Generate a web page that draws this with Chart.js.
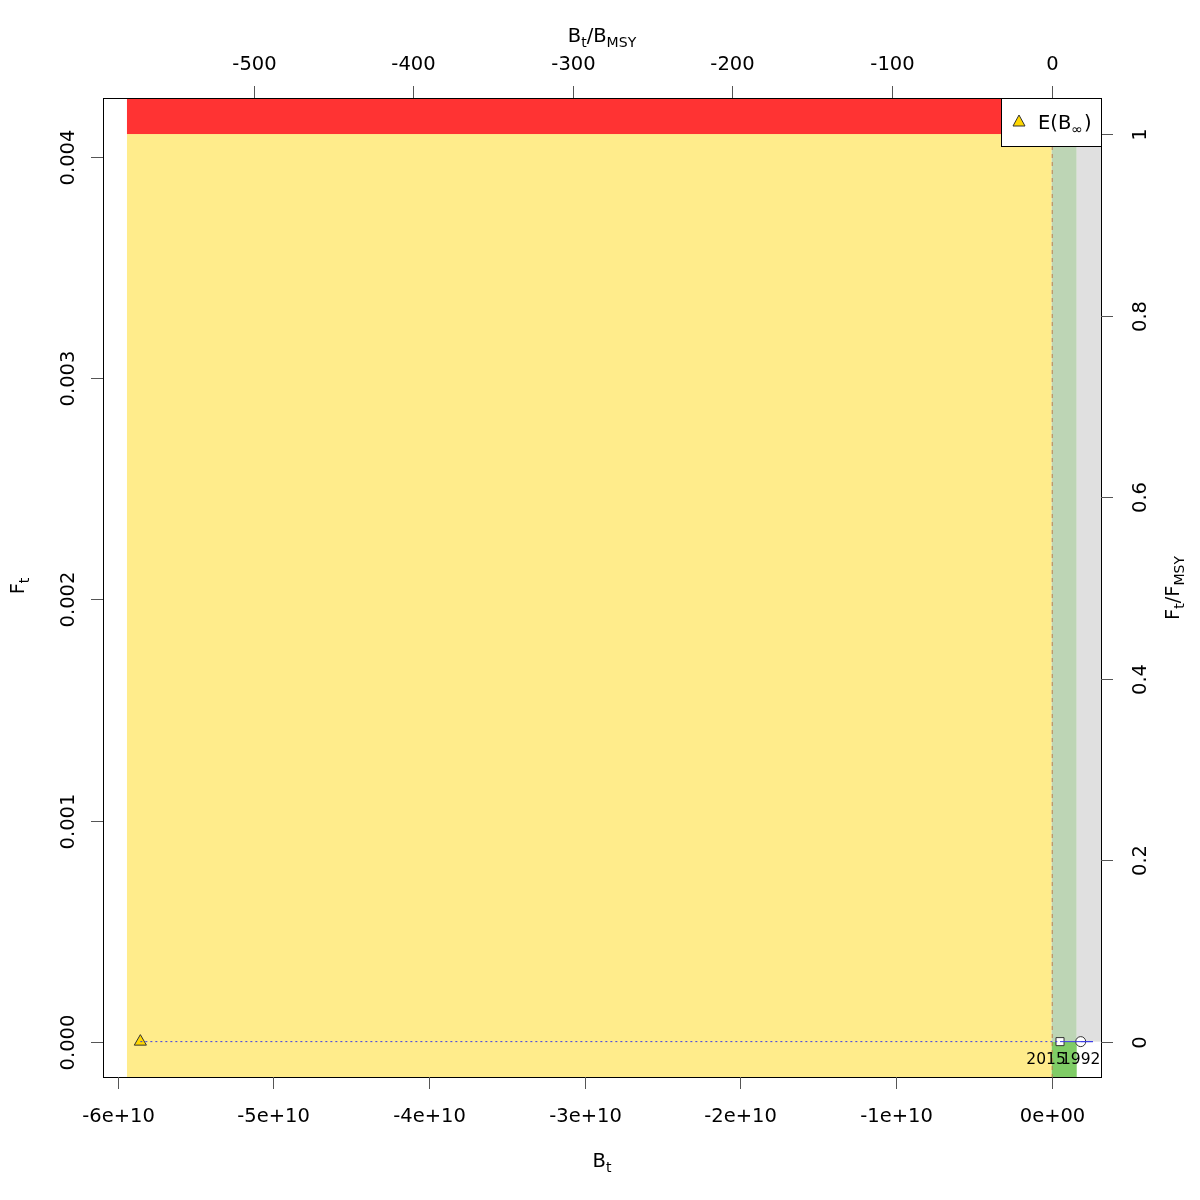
<!DOCTYPE html>
<html>
<head>
<meta charset="utf-8">
<script src="https://cdn.jsdelivr.net/npm/chart.js@4.4.1/dist/chart.umd.min.js"></script>
<style>
  body { margin: 0; background: #fff; }
  #wrap { width: 1200px; height: 1200px; }
</style>
</head>
<body>
<div id="wrap"><canvas id="kobe" width="1200" height="1200"></canvas></div>
<script>
// reference points
const Bmsy = 1.0255e8;
const Fmsy = 0.004105;

// axis ranges
const xRange = [-6.095e10, 3.166e9];
const yRange = [-0.00016, 0.004268];

// ticks
const xTicks = [-6e10, -5e10, -4e10, -3e10, -2e10, -1e10, 0];
const xTickLabels = ['-6e+10', '-5e+10', '-4e+10', '-3e+10', '-2e+10', '-1e+10', '0e+00'];
const yTicks = [0, 0.001, 0.002, 0.003, 0.004];
const yTickLabels = ['0.000', '0.001', '0.002', '0.003', '0.004'];
const topTicks = [-500, -400, -300, -200, -100, 0];
const rightTicks = [0, 0.2, 0.4, 0.6, 0.8, 1];
const rightTickLabels = ['0', '0.2', '0.4', '0.6', '0.8', '1'];

// zones (B limits)
const zoneLeft = -5.941e10;
const zoneSplit = 0;
const greenRight = 1.606e9;

// trajectory
const trajB = [1.863e9, 2.65e9, 5.33e8];
const trajF = [0, 0, 0];
const trajYears = ['1992', '', '2015'];

// E(B_inf)
const eBinf = { x: -5.855e10, y: 0 };

const FONT = '"DejaVu Sans", sans-serif';

function drawRich(ctx, parts, cx, base, size) {
  let w = 0;
  parts.forEach(p => {
    ctx.font = (p.sub ? size * 0.72 : size) + 'px ' + FONT;
    w += ctx.measureText(p.t).width;
  });
  let x = cx - w / 2;
  ctx.textAlign = 'left';
  ctx.textBaseline = 'alphabetic';
  parts.forEach(p => {
    ctx.font = (p.sub ? size * 0.72 : size) + 'px ' + FONT;
    ctx.fillText(p.t, x, base + (p.sub ? size * 0.28 : 0));
    x += ctx.measureText(p.t).width;
  });
}

const zones = {
  id: 'zones',
  beforeDatasetsDraw(chart) {
    const { ctx, chartArea: a, scales } = chart;
    const X = v => scales.x.getPixelForValue(v);
    const Y = v => scales.y.getPixelForValue(v);
    ctx.save();
    ctx.beginPath();
    ctx.rect(a.left, a.top, a.right - a.left, a.bottom - a.top);
    ctx.clip();
    // yellow: B < Bmsy, F < Fmsy
    ctx.fillStyle = '#FFEC8B';
    ctx.fillRect(X(zoneLeft), Y(Fmsy), X(zoneSplit) - X(zoneLeft), a.bottom - Y(Fmsy));
    // red: F > Fmsy
    ctx.fillStyle = '#FF3333';
    ctx.fillRect(X(zoneLeft), a.top, a.right - X(zoneLeft), Y(Fmsy) - a.top);
    // green below F = 0
    ctx.fillStyle = '#7FCC66';
    ctx.fillRect(X(zoneSplit), Y(0), X(greenRight) - X(zoneSplit), a.bottom - Y(0));
    // green under the grey region
    ctx.fillStyle = '#BDD5B5';
    ctx.fillRect(X(zoneSplit), a.top, X(greenRight) - X(zoneSplit), Y(0) - a.top);
    // grey region
    ctx.fillStyle = '#E0E0E0';
    ctx.fillRect(X(greenRight), a.top, a.right - X(greenRight), Y(0) - a.top);
    // dashed Bmsy line
    ctx.strokeStyle = 'rgba(190,120,70,0.9)';
    ctx.setLineDash([4, 4]);
    ctx.lineWidth = 1;
    ctx.beginPath();
    ctx.moveTo(X(zoneSplit) + 0.5, a.top);
    ctx.lineTo(X(zoneSplit) + 0.5, a.bottom);
    ctx.stroke();
    ctx.restore();
  }
};

const axes = {
  id: 'axes',
  afterDraw(chart) {
    const { ctx, chartArea: a, scales } = chart;
    const X = v => scales.x.getPixelForValue(v);
    const Y = v => scales.y.getPixelForValue(v);
    ctx.save();
    ctx.fillStyle = '#000';
    ctx.strokeStyle = '#000';
    ctx.lineWidth = 1;
    ctx.strokeRect(a.left + 0.5, a.top + 0.5, a.right - a.left, a.bottom - a.top);

    // year labels
    ctx.font = '15.5px ' + FONT;
    ctx.textAlign = 'center';
    ctx.textBaseline = 'alphabetic';
    ctx.fillText(trajYears[0], X(trajB[0]), Y(trajF[0]) + 22);
    ctx.fillText(trajYears[2], X(trajB[2]) - 14, Y(trajF[2]) + 22);

    ctx.strokeStyle = '#555';
    const fs = 19.5;
    ctx.font = fs + 'px ' + FONT;
    // bottom
    xTicks.forEach((v, i) => {
      const px = Math.round(X(v)) + 0.5;
      ctx.beginPath(); ctx.moveTo(px, a.bottom); ctx.lineTo(px, a.bottom + 12); ctx.stroke();
      ctx.textAlign = 'center';
      ctx.fillText(xTickLabels[i], px, 1122);
    });
    // top (B/Bmsy)
    topTicks.forEach(v => {
      const px = Math.round(X(v * Bmsy)) + 0.5;
      ctx.beginPath(); ctx.moveTo(px, a.top); ctx.lineTo(px, a.top - 12); ctx.stroke();
      ctx.textAlign = 'center';
      ctx.fillText(String(v), px, 70);
    });
    // left
    yTicks.forEach((v, i) => {
      const py = Math.round(Y(v)) + 0.5;
      ctx.beginPath(); ctx.moveTo(a.left, py); ctx.lineTo(a.left - 12, py); ctx.stroke();
      ctx.save();
      ctx.translate(74, py);
      ctx.rotate(-Math.PI / 2);
      ctx.textAlign = 'center';
      ctx.fillText(yTickLabels[i], 0, 0);
      ctx.restore();
    });
    // right (F/Fmsy)
    rightTicks.forEach((v, i) => {
      const py = Math.round(Y(v * Fmsy)) + 0.5;
      ctx.beginPath(); ctx.moveTo(a.right, py); ctx.lineTo(a.right + 12, py); ctx.stroke();
      ctx.save();
      ctx.translate(1146, py);
      ctx.rotate(-Math.PI / 2);
      ctx.textAlign = 'center';
      ctx.fillText(rightTickLabels[i], 0, 0);
      ctx.restore();
    });

    // axis titles
    ctx.fillStyle = '#000';
    drawRich(ctx, [{ t: 'B' }, { t: 't', sub: true }], 602, 1167, fs);
    drawRich(ctx, [{ t: 'B' }, { t: 't', sub: true }, { t: '/' }, { t: 'B' }, { t: 'MSY', sub: true }], 602, 42, fs);
    ctx.save();
    ctx.translate(24, 586);
    ctx.rotate(-Math.PI / 2);
    drawRich(ctx, [{ t: 'F' }, { t: 't', sub: true }], 0, 0, fs);
    ctx.restore();
    ctx.save();
    ctx.translate(1179, 588);
    ctx.rotate(-Math.PI / 2);
    drawRich(ctx, [{ t: 'F' }, { t: 't', sub: true }, { t: '/' }, { t: 'F' }, { t: 'MSY', sub: true }], 0, 0, fs);
    ctx.restore();

    // legend
    const lx = 1001, ly = a.top;
    ctx.fillStyle = '#fff';
    ctx.fillRect(lx, ly, a.right - lx, 48);
    ctx.strokeStyle = '#000';
    ctx.strokeRect(lx + 0.5, ly + 0.5, a.right - lx, 48);
    ctx.beginPath();
    ctx.moveTo(1019, 115); ctx.lineTo(1025, 126); ctx.lineTo(1013, 126); ctx.closePath();
    ctx.fillStyle = '#FFD700'; ctx.fill();
    ctx.strokeStyle = '#333'; ctx.stroke();
    ctx.fillStyle = '#000';
    ctx.font = fs + 'px ' + FONT;
    ctx.textAlign = 'left';
    ctx.fillText('E(B', 1038, 129);
    let w = ctx.measureText('E(B').width;
    ctx.font = (fs * 0.72) + 'px ' + FONT;
    ctx.fillText('\u221E', 1038 + w, 134);
    const w2 = ctx.measureText('\u221E').width;
    ctx.font = fs + 'px ' + FONT;
    ctx.fillText(')', 1038 + w + w2 + 1, 129);
    ctx.restore();
  }
};

new Chart(document.getElementById('kobe'), {
  type: 'scatter',
  data: {
    datasets: [
      {
        label: 'to E(Binf)',
        data: [{ x: eBinf.x, y: eBinf.y }, { x: trajB[2], y: trajF[2] }],
        showLine: true,
        borderColor: 'rgb(60,60,230)',
        borderWidth: 1,
        borderDash: [2, 3],
        pointRadius: 0
      },
      {
        label: 'trajectory',
        data: trajB.map((b, i) => ({ x: b, y: trajF[i] })),
        showLine: true,
        borderColor: 'rgb(60,60,230)',
        borderWidth: 1,
        pointRadius: 0
      },
      {
        label: 'first',
        data: [{ x: trajB[0], y: trajF[0] }],
        pointStyle: 'circle',
        pointRadius: 5,
        backgroundColor: '#fff',
        borderColor: '#333',
        borderWidth: 1
      },
      {
        label: 'last',
        data: [{ x: trajB[2], y: trajF[2] }],
        pointStyle: 'rect',
        pointRadius: 5.7,
        backgroundColor: '#fff',
        borderColor: '#333',
        borderWidth: 1
      },
      {
        label: 'E(Binf)',
        data: [eBinf],
        pointStyle: 'triangle',
        pointRadius: 7,
        backgroundColor: '#FFD700',
        borderColor: '#333',
        borderWidth: 1
      }
    ]
  },
  options: {
    responsive: false,
    animation: false,
    layout: { padding: { left: 103, right: 99, top: 98, bottom: 123 } },
    plugins: { legend: { display: false }, tooltip: { enabled: false } },
    scales: {
      x: { type: 'linear', min: xRange[0], max: xRange[1], display: false },
      y: { type: 'linear', min: yRange[0], max: yRange[1], display: false }
    }
  },
  plugins: [zones, axes]
});
</script>
</body>
</html>
